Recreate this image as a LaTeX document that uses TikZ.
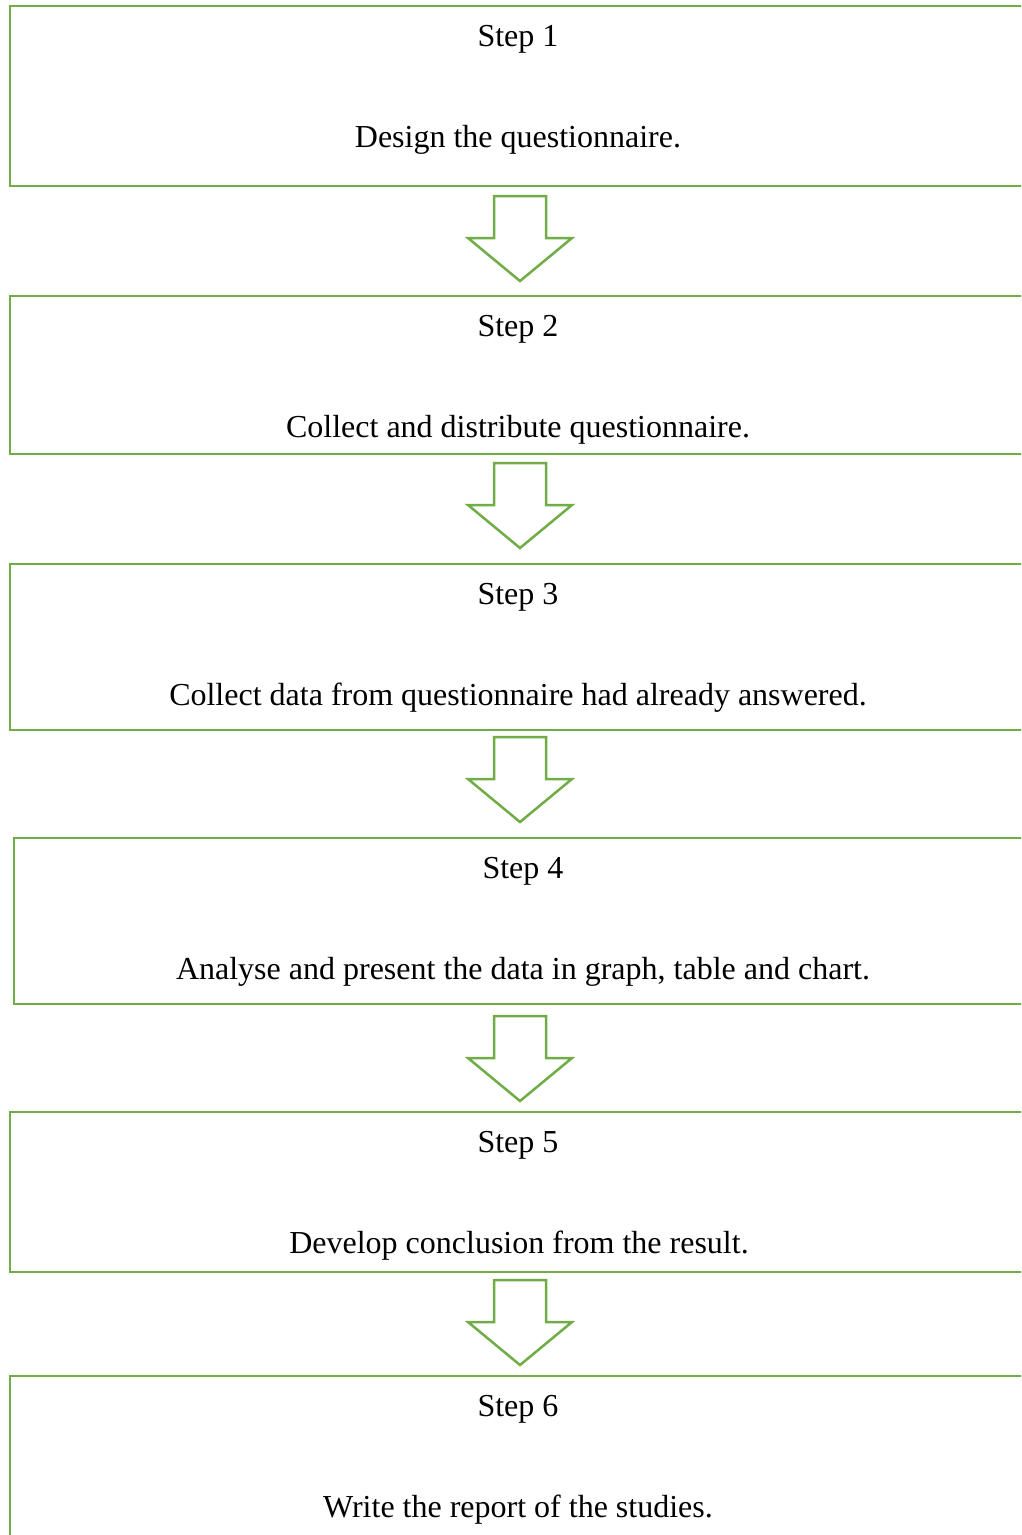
\documentclass[tikz,border=0pt]{standalone}
\usepackage{fontspec}
\setmainfont{Liberation Serif}
\definecolor{grn}{HTML}{70AD47}
\tikzset{
  stepbox/.style={draw=grn, line width=2.5pt, rectangle, minimum width=1016pt, inner sep=0pt},
  lbl/.style={anchor=base, inner sep=0pt, font=\fontsize{32}{38}\selectfont, text=black},
  darrow/.pic={\draw[draw=grn, line width=2.5pt, fill=white] (-26,0) -- (26,0) -- (26,42) -- (52,42) -- (0,85) -- (-52,42) -- (-26,42) -- cycle;}
}
\begin{document}
\begin{tikzpicture}[x=1pt,y=-1pt]
\useasboundingbox (0,0) rectangle (1021,1535);
\fill[white] (0,0) rectangle (1021,1535);
\clip (0,0) rectangle (1021,1535);
% boxes
\node[stepbox, minimum height=180pt] (b1) at (518,96) {};
\node[stepbox, minimum height=158pt] (b2) at (518,375) {};
\node[stepbox, minimum height=166pt] (b3) at (518,647) {};
\node[stepbox, minimum height=166pt] (b4) at (522,921) {};
\node[stepbox, minimum height=160pt] (b5) at (518,1192) {};
\node[stepbox, minimum height=180pt] (b6) at (518,1466) {};
% labels
\node[lbl] (s1) at (518,46) {Step 1};
\node[lbl] (t1) at (518,147) {Design the questionnaire.};
\node[lbl] (s2) at (518,336) {Step 2};
\node[lbl] (t2) at (518,437) {Collect and distribute questionnaire.};
\node[lbl] (s3) at (518,604) {Step 3};
\node[lbl] (t3) at (518,705) {Collect data from questionnaire had already answered.};
\node[lbl] (s4) at (523,878) {Step 4};
\node[lbl] (t4) at (523,979) {Analyse and present the data in graph, table and chart.};
\node[lbl] (s5) at (518,1152) {Step 5};
\node[lbl] (t5) at (519,1253) {Develop conclusion from the result.};
\node[lbl] (s6) at (518,1416) {Step 6};
\node[lbl] (t6) at (518,1517) {Write the report of the studies.};
% arrows
\pic (a1) at (520,196) {darrow};
\pic (a2) at (520,463) {darrow};
\pic (a3) at (520,737) {darrow};
\pic (a4) at (520,1016) {darrow};
\pic (a5) at (520,1280) {darrow};
\end{tikzpicture}
\end{document}
